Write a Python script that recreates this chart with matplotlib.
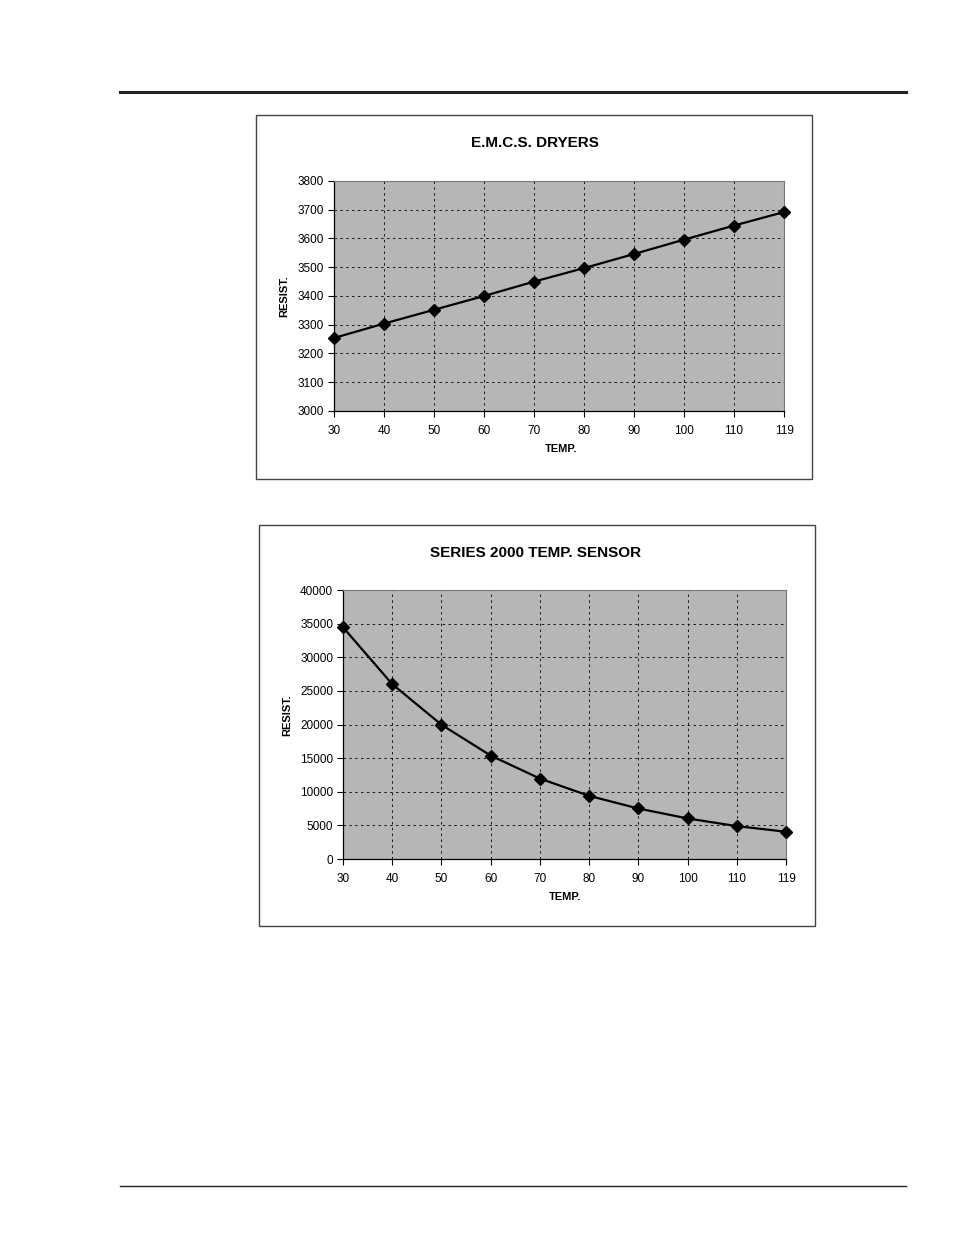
import matplotlib
matplotlib.use("Agg")
import matplotlib.pyplot as plt
from matplotlib.patches import Rectangle
from matplotlib.lines import Line2D

plt.rcParams['font.family'] = ['Liberation Sans', 'DejaVu Sans']

temps = ["30", "40", "50", "60", "70", "80", "90", "100", "110", "119"]
emcs_resist = [3254, 3304, 3352, 3400, 3450, 3497, 3546, 3596, 3645, 3692]
s2000_resist = [34460, 26000, 19970, 15380, 11960, 9390, 7510, 6030, 4890, 4050]

W, H = 954, 1235
fig = plt.figure(figsize=(W / 100, H / 100), dpi=100)


def fx(px):
    return px / W


def fy(py):
    return 1 - py / H


def box(x0, y0, x1, y1):
    fig.patches.append(Rectangle((fx(x0), fy(y1)), fx(x1) - fx(x0), fy(y0) - fy(y1),
                                 transform=fig.transFigure, fill=False,
                                 edgecolor='#444444', lw=1.0))


def axes_px(x0, y0, x1, y1):
    return fig.add_axes([fx(x0), fy(y1), fx(x1) - fx(x0), fy(y0) - fy(y1)])


# page rules
fig.add_artist(Line2D([fx(120), fx(906)], [fy(92), fy(92)], color='#222222', lw=2.2,
                      transform=fig.transFigure))
fig.add_artist(Line2D([fx(120), fx(906)], [fy(1186), fy(1186)], color='#222222', lw=1.0,
                      transform=fig.transFigure))


def draw_chart(boxc, axc, title, title_xy, ylab_xy, xlab_xy, values, ylim, yticks):
    box(*boxc)
    ax = axes_px(*axc)
    xs = list(range(len(temps)))
    ax.set_facecolor('#b6b6b6')
    ax.plot(xs, values, color='black', lw=1.6, marker='D', markersize=6,
            markerfacecolor='black', markeredgecolor='black', zorder=3, clip_on=False)
    ax.set_xlim(0, len(temps) - 1)
    ax.set_ylim(*ylim)
    ax.set_yticks(yticks)
    ax.set_yticklabels([str(v) for v in yticks])
    ax.set_xticks(xs)
    ax.set_xticklabels(temps)
    ax.grid(True, color='black', linestyle=(0, (3, 4)), lw=0.6)
    ax.set_axisbelow(True)
    ax.tick_params(axis='both', labelsize=8.5, length=4, width=0.8, direction='out', pad=3,
                   colors='black')
    ax.tick_params(axis='x', pad=6)
    for s in ('top', 'right'):
        ax.spines[s].set_color('#777777')
        ax.spines[s].set_linewidth(0.8)
    for s in ('left', 'bottom'):
        ax.spines[s].set_color('black')
        ax.spines[s].set_linewidth(0.9)
    fig.text(fx(title_xy[0]), fy(title_xy[1]), title, ha='center', va='center',
             fontsize=11, fontweight='bold')
    fig.text(fx(ylab_xy[0]), fy(ylab_xy[1]), "RESIST.", ha='center', va='center',
             rotation=90, fontsize=8, fontweight='bold')
    fig.text(fx(xlab_xy[0]), fy(xlab_xy[1]), "TEMP.", ha='center', va='center',
             fontsize=8, fontweight='bold')
    return ax


draw_chart((256, 115, 812, 479), (334, 181, 784, 411), "E.M.C.S. DRYERS",
           (535, 143), (284, 296), (561, 449), emcs_resist,
           (3000, 3800), list(range(3000, 3801, 100)))

draw_chart((259, 525, 815, 926), (343, 590, 786, 859), "SERIES 2000 TEMP. SENSOR",
           (536, 553), (287, 715), (565, 897), s2000_resist,
           (0, 40000), list(range(0, 40001, 5000)))

fig.savefig("out.png", dpi=100)
